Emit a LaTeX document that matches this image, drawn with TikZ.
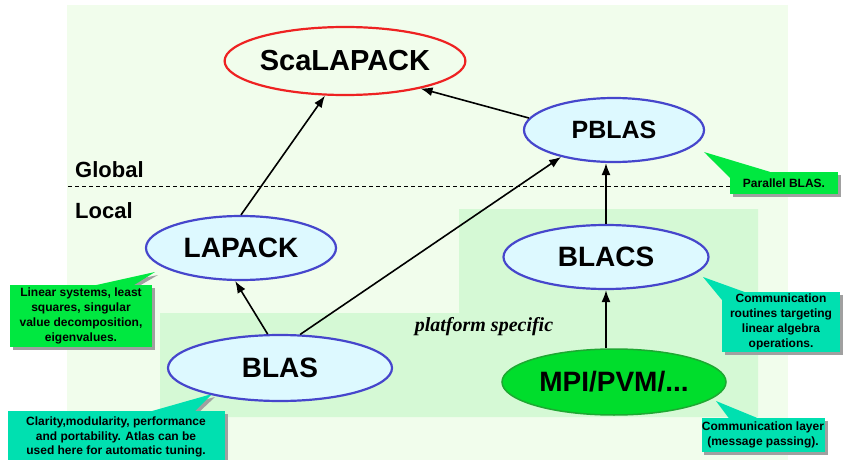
\documentclass[tikz,border=0pt]{standalone}
\usepackage{fontspec}
\setmainfont{Liberation Sans}
\newfontfamily\serifbi{Liberation Serif}
\usetikzlibrary{shapes.geometric,arrows.meta,calc}
\pgfdeclarelayer{bgzero}
\pgfdeclarelayer{bgone}
\pgfsetlayers{bgzero,bgone,main}
\definecolor{outerbg}{HTML}{F1FDEC}
\definecolor{innerbg}{HTML}{D5F9D5}
\definecolor{compblue}{HTML}{4646CC}
\definecolor{compfill}{HTML}{DDF9FF}
\definecolor{scared}{HTML}{EE2222}
\definecolor{mpifill}{HTML}{00DD2C}
\definecolor{mpiborder}{HTML}{1EA832}
\definecolor{callgreen}{HTML}{00E840}
\definecolor{callteal}{HTML}{00E0B0}
\definecolor{shadowgray}{HTML}{A0A0A0}
\begin{document}
\begin{tikzpicture}[x=1pt,y=-1pt,
  comp/.style={ellipse, draw=compblue, line width=2.2pt, fill=compfill, inner sep=0pt,
    font=\fontsize{28}{30}\selectfont\bfseries},
  arr/.style={-{Latex[length=12pt,width=9pt]}, line width=1.6pt},
  callout/.style={rectangle, inner sep=0pt, align=center,
    font=\fontsize{12}{14.8}\selectfont\bfseries},
  layerlabel/.style={anchor=west, inner sep=0pt, font=\fontsize{22}{24}\selectfont\bfseries}]
\useasboundingbox (0,0) rectangle (844,460);

% backgrounds
\begin{pgfonlayer}{bgzero}
  \fill[outerbg] (67,5) rectangle (788,460);
  \fill[innerbg] (459,209) -- (758,209) -- (758,417) -- (160,417) -- (160,313) -- (459,313) -- cycle;
  \draw[dashed, line width=0.8pt, dash pattern=on 4pt off 3pt] (68,186) -- (788,186);
\end{pgfonlayer}

\node[layerlabel] (global) at (75,170) {Global};
\node[layerlabel] (local) at (75,211) {Local};
\node[inner sep=0pt, font=\fontsize{20}{22}\selectfont\serifbi\bfseries\itshape] (plat) at (484,327) {platform specific};

% components
\node[ellipse, draw=scared, line width=2.2pt, inner sep=0pt, minimum width=220pt, minimum height=68pt,
  font=\fontsize{29}{31}\selectfont\bfseries] (scal) at (345,61) {ScaLAPACK};
\node[comp, minimum width=180pt, minimum height=64pt, font=\fontsize{25}{27}\selectfont\bfseries] (pblas) at (614,130) {PBLAS};
\node[comp, minimum width=190pt, minimum height=64pt] (lapack) at (241,248) {LAPACK};
\node[comp, minimum width=205pt, minimum height=64pt] (blacs) at (606,257) {BLACS};
\node[comp, minimum width=224pt, minimum height=66pt] (blas) at (280,368) {BLAS};
\node[ellipse, draw=mpiborder, line width=1.5pt, fill=mpifill, inner sep=0pt, minimum width=224pt, minimum height=66pt,
  font=\fontsize{28}{30}\selectfont\bfseries] (mpi) at (614,382) {MPI/PVM/...};

% arrows
\draw[arr] (lapack.north) -- (scal.-120);
\draw[arr] (pblas.172) -- (scal.-20);
\draw[arr] (blas.110) -- (lapack.-100);
\draw[arr] (blas.59) -- (pblas.-153);
\draw[arr] (blacs.north) -- (blacs.north |- pblas.south);
\draw[arr] (blacs.south |- mpi.north) -- (blacs.south);

% callouts
\node[callout, fill=callgreen, minimum width=108pt, minimum height=22pt] (cpb) at (784,183) {Parallel BLAS.};
\node[callout, fill=callgreen, minimum width=142pt, minimum height=62pt] (clin) at (81,316)
  {Linear systems, least\\squares, singular\\value decomposition,\\eigenvalues.};
\node[callout, fill=callteal, minimum width=217pt, minimum height=52pt] (ccla) at (116,437)
  {Clarity,modularity, performance\\and portability. Atlas can be\\used here for automatic tuning.};
\node[callout, fill=callteal, minimum width=118pt, minimum height=60pt] (ccr) at (781,322)
  {Communication\\routines targeting\\linear algebra\\operations.};
\node[callout, fill=callteal, minimum width=123pt, minimum height=34pt] (ccl) at (763,435)
  {Communication layer\\(message passing).};

\coordinate (tpb) at (704,152);
\coordinate (tlin) at (155,272);
\coordinate (tcla) at (212,394);
\coordinate (tcr) at (703,277);
\coordinate (tcl) at (716,401);

\begin{pgfonlayer}{bgone}
  \foreach \c in {cpb,clin,ccla,ccr,ccl}{
    \fill[shadowgray] ([shift={(3,3)}]\c.south west) rectangle ([shift={(3,3)}]\c.north east);
  }
  % Parallel BLAS pointer
  \fill[shadowgray] ([shift={(3,3)}]tpb) -- ([shift={(3,8)}]cpb.north west) -- ([shift={(43,3)}]cpb.north west) -- cycle;
  \fill[callgreen] (tpb) -- ([shift={(0,6)}]cpb.north west) -- ([shift={(40,0)}]cpb.north west) -- cycle;
  % Linear systems pointer
  \fill[shadowgray] ([shift={(3,3)}]tlin) -- ([shift={(86,3)}]clin.north west) -- ([shift={(126,3)}]clin.north west) -- cycle;
  \fill[callgreen] (tlin) -- ([shift={(83,1)}]clin.north west) -- ([shift={(123,1)}]clin.north west) -- cycle;
  % Clarity pointer
  \fill[shadowgray] ([shift={(3,3)}]tcla) -- ([shift={(145,3)}]ccla.north west) -- ([shift={(190,3)}]ccla.north west) -- cycle;
  \fill[callteal] (tcla) -- ([shift={(142,1)}]ccla.north west) -- ([shift={(187,1)}]ccla.north west) -- cycle;
  % Communication routines pointer
  \fill[shadowgray] ([shift={(3,3)}]tcr) -- ([shift={(3,10)}]ccr.north west) -- ([shift={(28,3)}]ccr.north west) -- cycle;
  \fill[callteal] (tcr) -- ([shift={(0,8)}]ccr.north west) -- ([shift={(25,1)}]ccr.north west) -- cycle;
  % Communication layer pointer
  \fill[shadowgray] ([shift={(3,3)}]tcl) -- ([shift={(31,3)}]ccl.north west) -- ([shift={(61,3)}]ccl.north west) -- cycle;
  \fill[callteal] (tcl) -- ([shift={(28,1)}]ccl.north west) -- ([shift={(58,1)}]ccl.north west) -- cycle;
\end{pgfonlayer}
\end{tikzpicture}
\end{document}
